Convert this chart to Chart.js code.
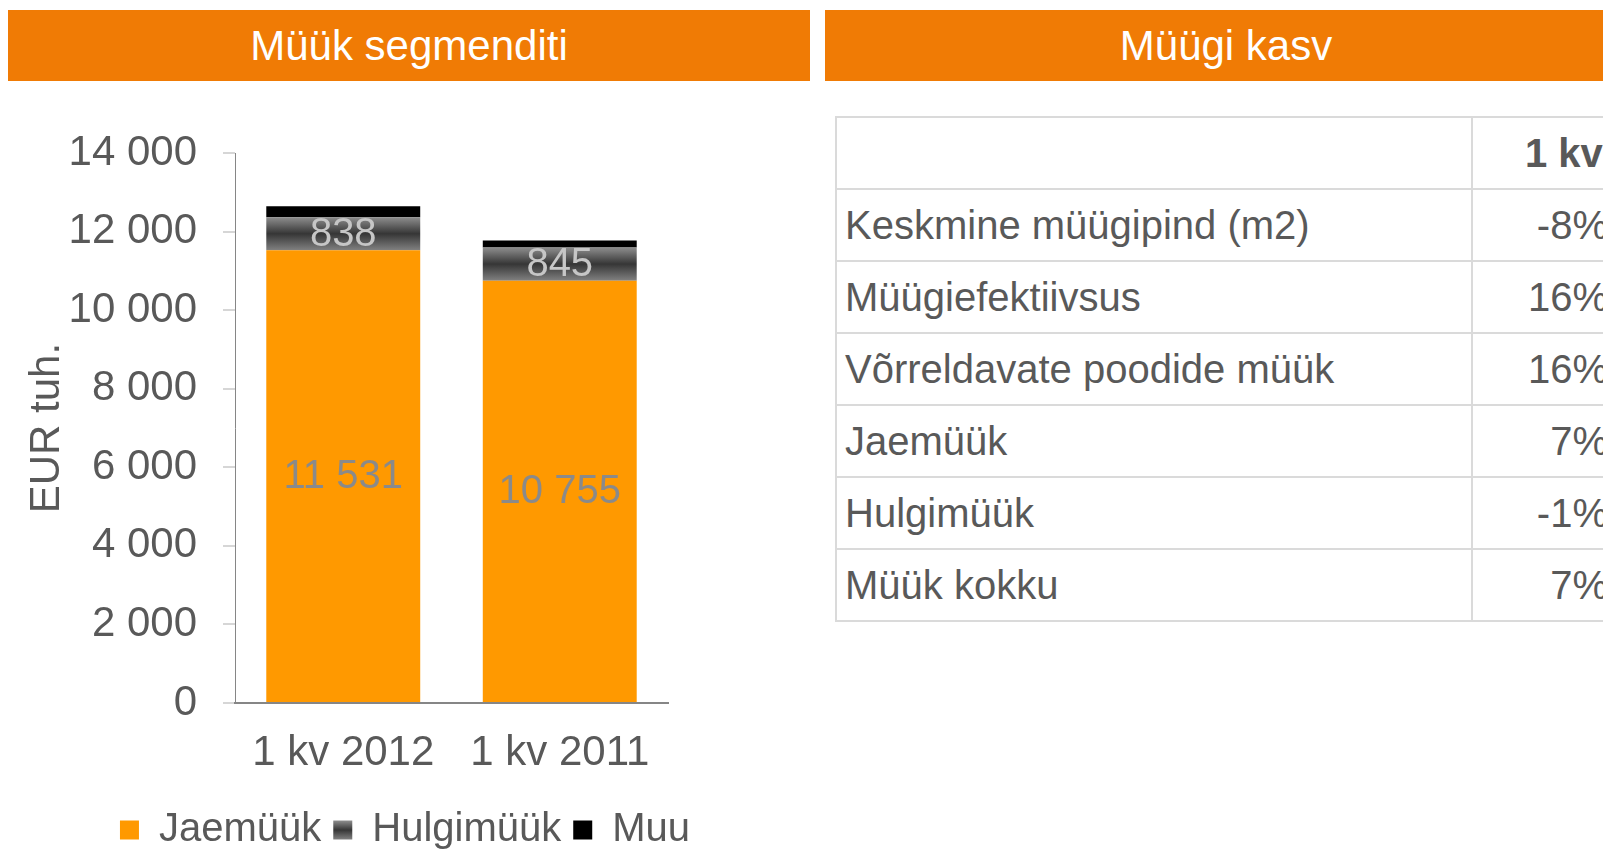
<!DOCTYPE html>
<html><head><meta charset="utf-8">
<script src="https://cdn.jsdelivr.net/npm/chart.js@4"></script>
<style>
html,body{margin:0;padding:0;background:#fff;overflow:hidden;width:1603px;height:849px;font-family:"Liberation Sans",Arial,sans-serif;}
.hdr{position:absolute;top:10px;height:71px;background:#F07B05;color:#fff;font-size:42px;line-height:71px;text-align:center;white-space:nowrap;}
#h1{left:8px;width:802px;}
#h2{left:825px;width:802px;}
#cw{position:absolute;left:0;top:102px;width:810px;height:758px;}
table{position:absolute;left:835px;top:116px;border-collapse:collapse;font-size:40px;color:#595959;table-layout:fixed;width:787px;}
td{border:2px solid #dadada;padding:0;white-space:nowrap;overflow:visible;}
tr{height:72px;}
td.l{padding-left:8px;}
td.v{text-align:right;padding-right:14px;}
td.h{font-weight:bold;text-align:left;padding-left:52px;padding-right:0;}
</style></head>
<body>
<div class="hdr" id="h1"></div>
<div class="hdr" id="h2"></div>
<div id="cw"><canvas id="c" width="810" height="758"></canvas></div>
<table id="tbl"><colgroup><col style="width:636px"><col style="width:151px"></colgroup><tbody id="tb"></tbody></table>
<script>
// ---- data ----
const leftTitle = 'Müük segmenditi';
const rightTitle = 'Müügi kasv';
const categories = ['1 kv 2012', '1 kv 2011'];
const jaemuuk = [11531, 10755];
const hulgimuuk = [838, 845];
const muu = [280, 180];
const seriesNames = ['Jaemüük', 'Hulgimüük', 'Muu'];
const yTickValues = [0, 2000, 4000, 6000, 8000, 10000, 12000, 14000];
const yTitle = 'EUR tuh.';
const tableHeader = '1 kv';
const tableRows = ['Keskmine müügipind (m2)', 'Müügiefektiivsus', 'Võrreldavate poodide müük', 'Jaemüük', 'Hulgimüük', 'Müük kokku'];
const tableValues = ['-8%', '16%', '16%', '7%', '-1%', '7%'];

// ---- page parts ----
document.getElementById('h1').textContent = leftTitle;
document.getElementById('h2').textContent = rightTitle;
let html = '<tr><td class="l"></td><td class="v h">' + tableHeader + '</td></tr>';
tableRows.forEach((r, i) => { html += '<tr><td class="l">' + r + '</td><td class="v">' + tableValues[i] + '</td></tr>'; });
document.getElementById('tb').innerHTML = html;

// ---- chart ----
const FONT = '"Liberation Sans", Arial, sans-serif';
Chart.defaults.font.family = FONT;
const fmt = v => String(v).replace(/\B(?=(\d{3})+(?!\d))/g, ' ');

function grayGrad(ctx, top, bot) {
  if (!isFinite(top) || !isFinite(bot) || top === bot) return '#555555';
  const g = ctx.createLinearGradient(0, top, 0, bot);
  g.addColorStop(0, '#8e8e8e');
  g.addColorStop(0.5, '#363636');
  g.addColorStop(1, '#808080');
  return g;
}

const hulgiFill = (c) => {
  if (c.type !== 'data') return '#555555';
  const y = c.chart.scales.y;
  if (!y) return '#555555';
  const i = c.dataIndex;
  const top = y.getPixelForValue(jaemuuk[i] + hulgimuuk[i]);
  const bot = y.getPixelForValue(jaemuuk[i]);
  return grayGrad(c.chart.ctx, top, bot);
};

const segLabels = {
  id: 'segLabels',
  afterDatasetsDraw(chart) {
    const ctx = chart.ctx;
    const cfg = [{ds: 0, color: '#8a8a8a'}, {ds: 1, color: '#c6c6c6'}];
    ctx.save();
    ctx.font = '40px ' + FONT;
    ctx.textAlign = 'center';
    ctx.textBaseline = 'middle';
    cfg.forEach(cf => {
      const meta = chart.getDatasetMeta(cf.ds);
      meta.data.forEach((el, i) => {
        ctx.fillStyle = cf.color;
        ctx.fillText(fmt(chart.data.datasets[cf.ds].data[i]), el.x, (el.y + el.base) / 2 + 1);
      });
    });
    ctx.restore();
  }
};

const legendGrad = {
  id: 'legendGrad',
  afterUpdate(chart) {
    const lg = chart.legend;
    if (!lg || !lg.legendHitBoxes || !lg.legendHitBoxes[1] || !lg.legendItems[1]) return;
    const hb = lg.legendHitBoxes[1];
    const top = hb.top + (40 - 19) / 2;
    lg.legendItems[1].fillStyle = grayGrad(chart.ctx, top, top + 19);
  }
};

new Chart(document.getElementById('c'), {
  type: 'bar',
  data: {
    labels: categories,
    datasets: [
      {label: seriesNames[0], data: jaemuuk, backgroundColor: '#FF9900', borderWidth: 0},
      {label: seriesNames[1], data: hulgimuuk, backgroundColor: hulgiFill, borderWidth: 0},
      {label: seriesNames[2], data: muu, backgroundColor: '#000000', borderWidth: 0}
    ]
  },
  options: {
    responsive: false,
    animation: false,
    layout: {padding: {top: 51, right: 0, left: 0, bottom: 0}},
    datasets: {bar: {barPercentage: 0.711, categoryPercentage: 1}},
    scales: {
      x: {
        stacked: true,
        grid: {display: false, drawTicks: false},
        border: {display: true, color: '#868686', width: 2},
        ticks: {color: '#595959', font: {size: 42}, padding: 25},
        afterFit(s) { s.height = 95; }
      },
      y: {
        stacked: true, min: 0, max: 14000,
        afterBuildTicks(s) { s.ticks = yTickValues.map(v => ({value: v})); },
        ticks: {color: '#595959', font: {size: 42}, padding: 26, callback: v => fmt(v)},
        grid: {drawOnChartArea: false, drawTicks: true, tickLength: 12, color: '#d6d6d6', lineWidth: 2},
        border: {color: '#868686', width: 1},
        title: {display: true, text: yTitle, color: '#595959', font: {size: 42}, padding: {top: 22, bottom: 0}},
        afterFit(s) { s.width = 235; }
      },
      yR: {
        position: 'right', display: true,
        grid: {display: false}, border: {display: false}, ticks: {display: false},
        afterFit(s) { s.width = 142; }
      }
    },
    plugins: {
      legend: {position: 'bottom', labels: {boxWidth: 19, boxHeight: 19, padding: 12, color: '#595959', font: {size: 40}}},
      tooltip: {enabled: false}
    }
  },
  plugins: [segLabels, legendGrad]
});
</script>
</body></html>
